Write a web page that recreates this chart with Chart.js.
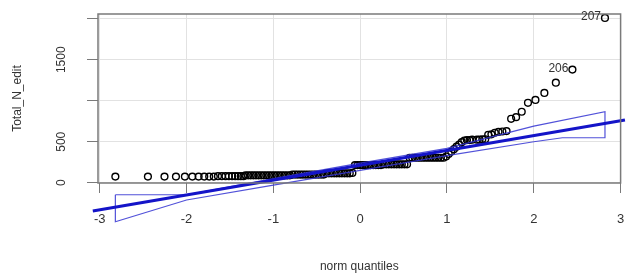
<!DOCTYPE html>
<html>
<head>
<meta charset="utf-8">
<script src="https://cdn.jsdelivr.net/npm/chart.js@4.4.1/dist/chart.umd.min.js"></script>
<style>
    html, body { margin: 0; padding: 0; background: #ffffff; }
    #wrap { width: 626px; height: 280px; }
</style>
</head>
<body>
<div id="wrap"><canvas id="QQChart" width="626" height="280"></canvas></div>
<script>
// sample points: theoretical normal quantile and sorted Total_N_edit value
var Quantiles = [
    -2.82, -2.445, -2.254, -2.122, -2.019, -1.933, -1.861, -1.796, -1.739, -1.686,
    -1.638, -1.593, -1.551, -1.512, -1.475, -1.44, -1.407, -1.375, -1.345,
    -1.32, -1.29, -1.26, -1.23, -1.2, -1.17, -1.14, -1.11, -1.08, -1.05, -1.02, -0.99,
    -0.96, -0.93, -0.9, -0.87, -0.84, -0.81,
    -0.78, -0.75, -0.72, -0.69, -0.66, -0.63, -0.6, -0.57, -0.54, -0.51, -0.48, -0.45, -0.42,
    -0.39, -0.36, -0.33, -0.3, -0.27, -0.24, -0.21, -0.18, -0.15, -0.12, -0.09,
    -0.06, -0.03, 0, 0.03, 0.06, 0.09, 0.12, 0.15, 0.18, 0.21, 0.24,
    0.27, 0.3, 0.33, 0.36, 0.39, 0.42, 0.45, 0.48, 0.51, 0.54,
    0.57, 0.6, 0.63, 0.66, 0.69, 0.72, 0.75, 0.78, 0.81, 0.84, 0.87, 0.9, 0.93, 0.96,
    0.99, 1.02, 1.05, 1.08, 1.11, 1.14, 1.17, 1.2, 1.23, 1.26, 1.29,
    1.345, 1.375, 1.407, 1.44, 1.475, 1.512, 1.551, 1.593, 1.638, 1.686,
    1.739, 1.796, 1.861, 1.933, 2.019, 2.122, 2.254, 2.445, 2.82
]
var TotalN = [
    75, 75, 75, 75, 75, 75, 75, 75, 75, 75,
    80, 80, 80, 80, 80, 80, 80, 80, 80,
    90, 90, 90, 90, 90, 90, 90, 90, 90, 90, 90, 90,
    90, 90, 90, 90, 90, 90,
    100, 100, 100, 100, 100, 100, 100, 100, 100, 100, 100, 100, 100,
    115, 115, 115, 115, 115, 115, 115, 115, 115, 115, 120,
    215, 215, 215, 215, 215, 215, 215, 215, 215, 215, 215,
    225, 225, 225, 225, 225, 225, 225, 225, 225, 225,
    305, 305, 305, 305, 305, 305, 305, 305, 305, 305, 305, 305, 305, 305,
    320, 350, 380, 410, 440, 465, 495, 515, 520, 520, 525,
    525, 525, 530, 530, 585, 590, 610, 620, 625, 630,
    780, 800, 866, 975, 1010, 1095, 1220, 1380, 2010
]
var OutlierLabels = ['206', '207']

// reference line and confidence envelope
var LineQ = [-3.08, 3.05]
var LineV = [-344, 765]
var UpperQ = [-2.82, -2.0, -1, 0, 1, 2, 2.82]
var UpperV = [-146, -146, 50, 240, 420, 690, 866]
var LowerQ = [2.82, 2.33, 2, 1, 0, -1, -2, -2.82]
var LowerV = [549, 549, 500, 330, 150, -30, -210, -476]

var XTicks = [-3, -2, -1, 0, 1, 2, 3]
var YTicks = [0, 500, 1000, 1500, 2000]
var YTickLabels = ['0', '500', '', '1500', '']

var pairs = function (xs, ys) {
    return xs.map(function (x, i) { return { x: x, y: ys[i] } })
}

var envelope = pairs(UpperQ, UpperV).concat(pairs(LowerQ, LowerV))
envelope.push({ x: UpperQ[0], y: UpperV[0] })

var boxAndLabels = {
    id: 'boxAndLabels',
    afterDraw: function (chart) {
        var ctx = chart.ctx
        var area = chart.chartArea
        var xs = chart.scales.x
        var ys = chart.scales.y
        ctx.save()
        ctx.strokeStyle = '#7a7a7a'
        ctx.lineWidth = 1.5
        ctx.strokeRect(area.left, area.top, area.right - area.left, area.bottom - area.top)

        // y tick labels, rotated like R
        ctx.fillStyle = '#333'
        ctx.font = '12px "Liberation Sans", Arial, sans-serif'
        ctx.textAlign = 'center'
        ctx.textBaseline = 'middle'
        for (var i = 0; i < YTicks.length; i++) {
            if (!YTickLabels[i]) continue
            ctx.save()
            ctx.translate(62, ys.getPixelForValue(YTicks[i]))
            ctx.rotate(-Math.PI / 2)
            ctx.fillText(YTickLabels[i], 0, 0)
            ctx.restore()
        }

        // labels of the two largest points
        ctx.textAlign = 'right'
        var n = Quantiles.length
        for (var k = 0; k < OutlierLabels.length; k++) {
            var idx = n - OutlierLabels.length + k
            var px = xs.getPixelForValue(Quantiles[idx])
            var py = ys.getPixelForValue(TotalN[idx])
            ctx.fillText(OutlierLabels[k], px - 4, py - 1)
        }
        ctx.restore()
    }
}

var config_QQ = {
    type: 'scatter',
    data: {
        datasets: [
            {
                data: pairs(LineQ, LineV),
                showLine: true,
                borderColor: 'rgb(20, 20, 200)',
                borderWidth: 3,
                pointRadius: 0,
                clip: false,
            },
            {
                data: envelope,
                showLine: true,
                borderColor: 'rgba(50, 50, 210, 0.85)',
                borderWidth: 1.2,
                pointRadius: 0,
                clip: false,
            },
            {
                data: pairs(Quantiles, TotalN),
                pointStyle: 'circle',
                pointRadius: 3.4,
                borderColor: '#000000',
                backgroundColor: 'rgba(0,0,0,0)',
                borderWidth: 1.4,
            },
        ],
    },
    plugins: [boxAndLabels],
    options: {
        responsive: false,
        animation: false,
        layout: {
            padding: { top: 14, right: 4, left: 0, bottom: 0 }
        },
        plugins: {
            legend: { display: false },
            tooltip: { enabled: false },
        },
        scales: {
            x: {
                type: 'linear',
                min: -3.02,
                max: 3.0,
                afterBuildTicks: function (s) {
                    s.ticks = XTicks.map(function (v) { return { value: v } })
                },
                afterFit: function (s) {
                    s.height = 97
                    s.paddingLeft = 0
                    s.paddingRight = 0
                },
                grid: {
                    color: '#e2e2e2',
                    tickColor: '#7a7a7a',
                    tickLength: 10,
                },
                border: { display: false },
                ticks: {
                    padding: 19,
                    color: '#333',
                    font: { family: '"Liberation Sans", Arial, sans-serif', size: 13 },
                    maxRotation: 0,
                },
                title: {
                    display: true,
                    text: 'norm quantiles',
                    color: '#333',
                    font: { family: '"Liberation Sans", Arial, sans-serif', size: 12 },
                    padding: { top: 0, bottom: 6 },
                },
            },
            y: {
                type: 'linear',
                min: -3,
                max: 2058,
                afterBuildTicks: function (s) {
                    s.ticks = YTicks.map(function (v) { return { value: v } })
                },
                afterFit: function (s) {
                    s.width = 98
                    s.paddingTop = 0
                    s.paddingBottom = 0
                },
                grid: {
                    color: '#e2e2e2',
                    tickColor: '#7a7a7a',
                    tickLength: 11,
                },
                border: { display: false },
                ticks: {
                    color: 'rgba(0,0,0,0)',
                    font: { size: 12 },
                },
                title: {
                    display: true,
                    text: 'Total_N_edit',
                    color: '#333',
                    font: { family: '"Liberation Sans", Arial, sans-serif', size: 12 },
                    padding: { top: 10, bottom: 0 },
                },
            },
        },
    },
}

var QQChartElement = document.getElementById('QQChart').getContext('2d')
new Chart(QQChartElement, config_QQ)
</script>
</body>
</html>
